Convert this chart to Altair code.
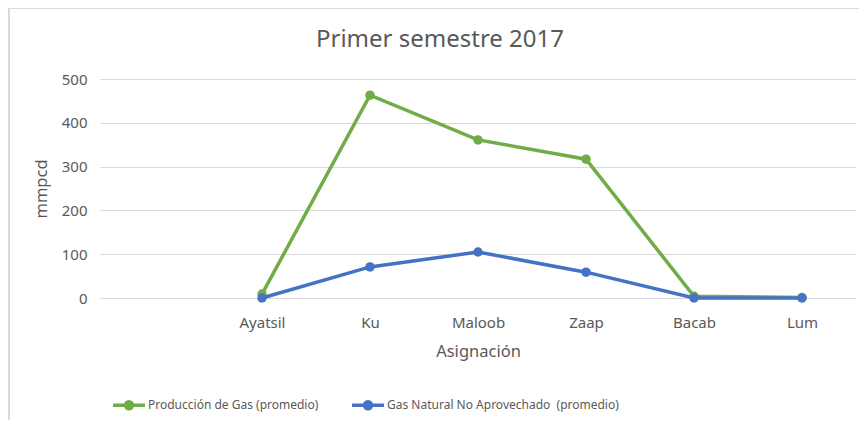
import altair as alt
import pandas as pd

categories = ["", "Ayatsil", "Ku", "Maloob", "Zaap", "Bacab", "Lum"]
fields = ["Ayatsil", "Ku", "Maloob", "Zaap", "Bacab", "Lum"]
produccion = [9, 463, 361, 317, 4, 1]
no_aprovechado = [0, 71, 105, 59, 0, 0]
series = ["Producción de Gas (promedio)", "Gas Natural No Aprovechado\u00a0 (promedio)"]
colors = ["#70ad47", "#4472c4"]
title_text = "Primer semestre 2017"

rows = []
for f, v in zip(fields, produccion):
    rows.append({"Asignación": f, "valor": v, "serie": series[0]})
for f, v in zip(fields, no_aprovechado):
    rows.append({"Asignación": f, "valor": v, "serie": series[1]})
df = pd.DataFrame(rows)

FONT = "Noto Sans"
GREY = "#595959"

legend_path = "M-1,0L1,0M-0.22,0A0.22,0.22,0,1,0,0.22,0A0.22,0.22,0,1,0,-0.22,0Z"

color = alt.Color(
    "serie:N",
    scale=alt.Scale(domain=series, range=colors),
    legend=alt.Legend(
        title=None,
        orient="none",
        legendX=11,
        legendY=308,
        direction="horizontal",
        symbolType=legend_path,
        symbolSize=1024,
        symbolStrokeWidth=3.5,
        labelFont=FONT,
        labelFontSize=12,
        labelColor=GREY,
        labelOffset=1,
        columnPadding=26,
        labelLimit=400,
    ),
)

x = alt.X(
    "Asignación:N",
    scale=alt.Scale(domain=categories, paddingOuter=0.5),
    sort=categories,
    axis=alt.Axis(
        title="Asignación",
        labelAngle=0,
        labelPadding=17,
        titlePadding=13,
        domain=False,
        ticks=False,
        grid=False,
    ),
)
y = alt.Y(
    "valor:Q",
    scale=alt.Scale(domain=[0, 500], nice=False),
    axis=alt.Axis(
        title="mmpcd",
        values=[0, 100, 200, 300, 400, 500],
        domain=False,
        ticks=False,
        labelPadding=13,
        titlePadding=12,
    ),
)

base = alt.Chart(df)
layers = []
for s in series:
    layers.append(
        base.transform_filter(alt.datum.serie == s)
        .mark_line(strokeWidth=3.5, point=alt.OverlayMarkDef(filled=True, size=90, opacity=1))
        .encode(x=x, y=y, color=color)
    )

one = pd.DataFrame({"a": [0]})
border = alt.Chart(one).mark_rule(color="#d9d9d9", strokeWidth=2).encode(
    x=alt.value(-91), x2=alt.value(760), y=alt.value(-71), y2=alt.value(-71)
)
border_left = alt.Chart(one).mark_rule(color="#d9d9d9", strokeWidth=2).encode(
    x=alt.value(-91), y=alt.value(-71), y2=alt.value(345)
)
title = alt.Chart(one).mark_text(
    font=FONT, fontSize=24, color=GREY, align="center", baseline="middle"
).encode(x=alt.value(340), y=alt.value(-39), text=alt.value(title_text))

chart = (
    alt.layer(*layers, border, border_left, title)
    .properties(
        width=756,
        height=219,
        autosize=alt.AutoSizeParams(type="none"),
        padding={"left": 92, "top": 71, "right": 3, "bottom": 122},
    )
    .configure_view(stroke=None)
    .configure_axis(
        labelFont=FONT,
        labelFontSize=15,
        labelColor=GREY,
        titleFont=FONT,
        titleFontSize=16.5,
        titleFontWeight="normal",
        titleColor=GREY,
        gridColor="#d9d9d9",
        gridWidth=1,
    )
)

chart.save("out.html", embed_options={"renderer": "svg", "actions": False})
